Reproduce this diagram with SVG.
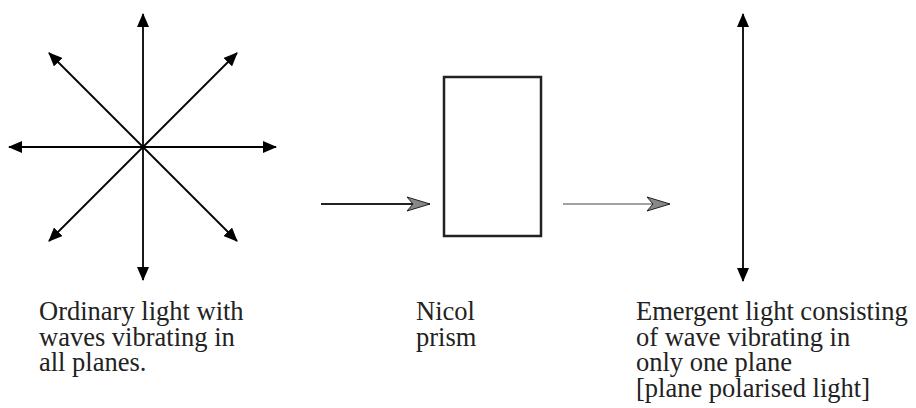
<svg xmlns="http://www.w3.org/2000/svg" width="916" height="408" viewBox="0 0 916 408">
  <defs>
    <marker id="blackHead" markerUnits="userSpaceOnUse" viewBox="0 0 14 12" refX="13" refY="6" markerWidth="14" markerHeight="12" orient="auto-start-reverse">
      <path d="M0,0 L14,6 L0,12 z" fill="#000"/>
    </marker>
    <marker id="grayHead" markerUnits="userSpaceOnUse" viewBox="-1 -1 26 16" refX="23" refY="7" markerWidth="26" markerHeight="16" orient="auto">
      <path d="M0,0 L23,7 L0,14 L6,7 z" fill="#888" stroke="#222" stroke-width="1" stroke-linejoin="miter"/>
    </marker>
  </defs>
  <style>
    .ray { stroke: #000; stroke-width: 1.8; fill: none; marker-start: url(#blackHead); marker-end: url(#blackHead); }
    .beam { fill: none; marker-end: url(#grayHead); }
    .label { font-size: 26.5px; fill: #222; }
  </style>

  <rect width="916" height="408" fill="#fff"/>

  <g id="ordinary-light">
    <line class="ray" x1="143" y1="14" x2="143" y2="280"/>
    <line class="ray" x1="9" y1="147" x2="276" y2="147"/>
    <line class="ray" x1="49" y1="53" x2="237" y2="241"/>
    <line class="ray" x1="237" y1="53" x2="49" y2="241"/>
  </g>

  <g id="nicol-prism">
    <rect x="444" y="77" width="97" height="159" fill="none" stroke="#222" stroke-width="2.5"/>
  </g>

  <g id="emergent-light">
    <line class="ray" x1="743" y1="14" x2="743" y2="281"/>
  </g>

  <g id="connectors">
    <line class="beam" x1="321" y1="204" x2="430" y2="204" stroke="#222" stroke-width="1.8"/>
    <line class="beam" x1="563" y1="204" x2="670" y2="204" stroke="#444" stroke-width="1"/>
  </g>

  <g id="labels" font-family="'Liberation Serif', 'Times New Roman', Times, 'DejaVu Serif', serif">
    <text class="label" x="39" y="320">Ordinary light with</text>
    <text class="label" x="39" y="345.5">waves vibrating in</text>
    <text class="label" x="39" y="371">all planes.</text>
    <text class="label" x="416" y="320">Nicol</text>
    <text class="label" x="416" y="345.5">prism</text>
    <text class="label" x="636" y="320">Emergent light consisting</text>
    <text class="label" x="636" y="345.5">of wave vibrating in</text>
    <text class="label" x="636" y="371">only one plane</text>
    <text class="label" x="636" y="396.5">[plane polarised light]</text>
  </g>
</svg>
